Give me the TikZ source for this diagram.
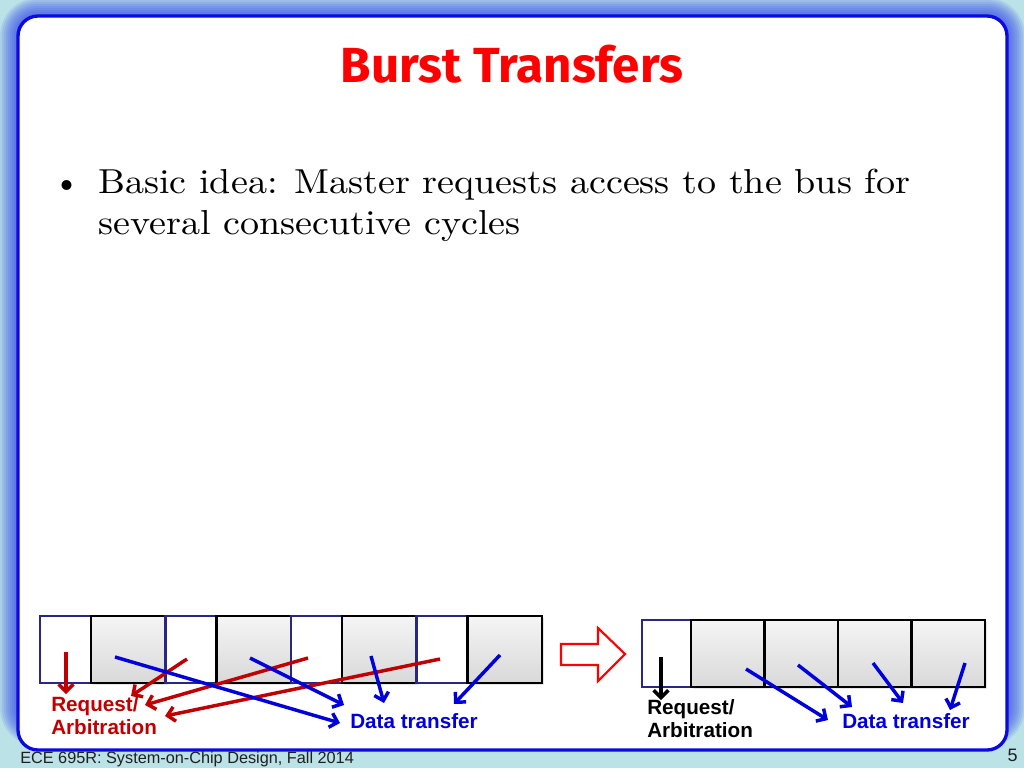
\documentclass[tikz,border=0pt]{standalone}
\usepackage{graphicx}
\usepackage{fontspec}
\newfontfamily\labelfont{Liberation Sans}
\newfontfamily\titlefont{Fira Sans}
\newfontfamily\bodyfont{lmroman10-regular.otf}
\usetikzlibrary{positioning,arrows.meta,shadows}
\definecolor{bgcyan}{RGB}{187,226,231}
\definecolor{glowblue}{RGB}{50,70,240}
\definecolor{frameblue}{RGB}{10,10,225}
\definecolor{navy}{RGB}{40,40,130}
\definecolor{reqred}{RGB}{192,0,0}
\definecolor{datblue}{RGB}{0,0,220}
\definecolor{titlered}{RGB}{255,0,0}
\def\px{0.75pt}
\newcommand\widen[1]{\scalebox{1.098}[1]{#1}}

\begin{document}
\begin{tikzpicture}[x=\px, y=-\px,
  cyc/.style={rectangle, minimum height=67*\px, inner sep=0pt, outer sep=0pt, line width=1.9pt, anchor=north west},
  req/.style={cyc, draw=navy, fill=white},
  dat/.style={cyc, draw=black, top color=gray!8, bottom color=gray!30,
    drop shadow={opacity=0.2, shadow xshift=1.5pt, shadow yshift=-1.5pt}},
  rarr/.style={-{Straight Barb[length=5.5pt,width=11pt]}, line width=2.6pt, reqred},
  barr/.style={rarr, datblue},
  karr/.style={rarr, black},
  lbl/.style={font=\labelfont\bfseries\fontsize{15.5}{17.5}\selectfont, align=left, inner sep=0pt},
  body/.style={font=\bodyfont\fontsize{26}{30}\selectfont, anchor=base west, inner sep=0pt}]
\clip (0,0) rectangle (1024,768);
% slide background with glow round the panel
\fill[bgcyan] (0,0) rectangle (1024,768);
\foreach \d in {2,4,...,18}
  \draw[glowblue, opacity=0.12, line width=2*\d*\px, rounded corners=15pt] (18,16) rectangle (1007,728);
\draw[frameblue, fill=white, line width=2.5pt, rounded corners=15pt] (18,16) rectangle (1007,750);
% title and text
\node[font=\titlefont\bfseries\fontsize{37}{42}\selectfont, text=titlered, anchor=base] (title) at (512,82) {Burst Transfers};
\node[body, anchor=base] (dot) at (67,193) {\textbullet};
\node[body] (line1) at (98,193) {\widen{Basic idea: Master requests access to the bus for}};
\node[body] (line2) at (98,234) {\widen{several consecutive cycles}};
% left row: arbitration before every transfer
\node[req, minimum width=51*\px] (a1) at (40,616) {};
\node[dat, minimum width=74.5*\px, right=0pt of a1] (a2) {};
\node[req, minimum width=51*\px, right=0pt of a2] (a3) {};
\node[dat, minimum width=74.5*\px, right=0pt of a3] (a4) {};
\node[req, minimum width=51*\px, right=0pt of a4] (a5) {};
\node[dat, minimum width=74.5*\px, right=0pt of a5] (a6) {};
\node[req, minimum width=51*\px, right=0pt of a6] (a7) {};
\node[dat, minimum width=74.5*\px, right=0pt of a7] (a8) {};
% right row: one arbitration, then a burst
\node[req, minimum width=49*\px] (b1) at (642,620) {};
\node[dat, minimum width=73.5*\px, right=0pt of b1] (b2) {};
\node[dat, minimum width=73.5*\px, right=0pt of b2] (b3) {};
\node[dat, minimum width=73.5*\px, right=0pt of b3] (b4) {};
\node[dat, minimum width=73.5*\px, right=0pt of b4] (b5) {};
% hollow arrow between the rows
\draw[red, line width=1.6pt, fill=white] (561,644) -- (598,644) -- (598,628) -- (625,654)
  -- (598,681) -- (598,665) -- (561,665) -- cycle;
% arrow ends
\foreach \n/\a/\b in {rs1/66/652, re1/66/694, rs2/187/659, re2/131/696, rs3/308/658, re3/145/705,
    rs4/440/659, re4/165/716, bs1/115/657, be1/340/723, bs2/250/658, be2/344/705,
    bs3/371/656, be3/384/703, bs4/500/655, be4/454/704,
    ks/661/657, ke/661/700, cs1/746/669, ce1/828/720, cs2/798/665, ce2/852/707,
    cs3/873/663, ce3/903/703, cs4/965/663, ce4/950/710}
  \coordinate (\n) at (\a,\b);
\foreach \i in {1,...,4}
  \draw[rarr] (rs\i) -- (re\i);
\foreach \i in {1,...,4}
  \draw[barr] (bs\i) -- (be\i);
\draw[karr] (ks) -- (ke);
\foreach \i in {1,...,4}
  \draw[barr] (cs\i) -- (ce\i);
% labels
\node[lbl, text=reqred, anchor=north west] (reqL) at (51,696) {Request/\\Arbitration};
\node[lbl, text=datblue, anchor=base west] (datL) at (350,728) {Data transfer};
\node[lbl, anchor=north west] (reqR) at (647,699) {Request/\\Arbitration};
\node[lbl, text=datblue, anchor=base west] (datR) at (842,728) {Data transfer};
% footer
\node[anchor=base west, inner sep=0pt, font=\labelfont\fontsize{12.2}{14}\selectfont, text=black!88] (foot) at (20,763) {ECE 695R: System-on-Chip Design, Fall 2014};
\node[anchor=base east, inner sep=0pt, font=\labelfont\fontsize{13.5}{16}\selectfont, text=black!88] (pno) at (1018,761) {5};
\end{tikzpicture}
\end{document}
